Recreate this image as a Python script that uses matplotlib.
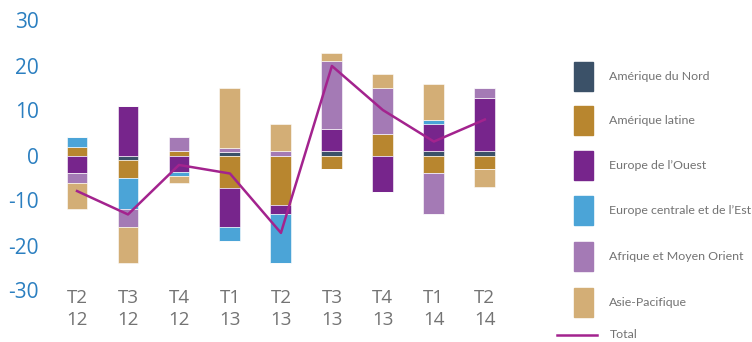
"""Stacked regional contributions per quarter with the total as a line."""

import numpy as np
import matplotlib.pyplot as plt
from matplotlib.patches import Rectangle
from matplotlib.lines import Line2D

plt.rcParams["font.family"] = ["Open Sans", "DejaVu Sans"]
plt.rcParams["axes.unicode_minus"] = False

quarters = ["T2\n12", "T3\n12", "T4\n12", "T1\n13", "T2\n13",
            "T3\n13", "T4\n13", "T1\n14", "T2\n14"]

regions = ["Amérique du Nord", "Amérique latine", "Europe de l\u2019Ouest",
           "Europe centrale et de l\u2019Est", "Afrique et Moyen Orient",
           "Asie-Pacifique"]

amerique_nord = [0.0, -0.9, 0.0, 0.8, 0.0, 0.9, 0.0, 0.9, 0.9]
amerique_latine = [1.8, -4.0, 1.0, -7.2, -11.0, -3.1, 4.8, -3.9, -2.9]
europe_ouest = [-3.8, 11.1, -3.7, -8.7, -2.1, 5.1, -8.0, 6.1, 11.9]
europe_est = [2.4, -7.0, -0.9, -3.2, -10.8, 0.0, 0.0, 0.9, 0.0]
afrique_mo = [-2.2, -3.9, 3.1, 0.9, 0.9, 14.9, 10.2, -9.0, 2.2]
asie_pacifique = [-5.8, -8.0, -1.5, 13.2, 6.2, 1.8, 3.1, 8.0, -4.2]

total = [-7.9, -13.1, -2.1, -4.0, -17.2, 19.9, 10.1, 3.1, 8.0]

COLORS = ["#3b5168", "#b8862f", "#77258c", "#4ba4d7", "#a47ab5", "#d3ae76"]
TOTAL_COLOR = "#a3238e"
TICK_BLUE = "#2b7fc0"
TEXT_GREY = "#737373"
LEGEND_FONT = ["Lato", "DejaVu Sans"]

series = np.array([amerique_nord, amerique_latine, europe_ouest,
                   europe_est, afrique_mo, asie_pacifique])
x = np.arange(len(quarters))

fig = plt.figure(figsize=(7.52, 3.42), dpi=100)
ax = fig.add_axes([50 / 752, 1 - 290.5 / 342, 470 / 752, 270 / 342])

# positive parts stack upward from zero, negative parts stack downward
pos_base = np.zeros(len(x))
neg_base = np.zeros(len(x))
for vals, color in zip(series, COLORS):
    pos = np.clip(vals, 0, None)
    neg = np.clip(vals, None, 0)
    ax.bar(x, pos, width=0.41, bottom=pos_base, color=color,
           edgecolor="white", linewidth=0.4)
    ax.bar(x, neg, width=0.41, bottom=neg_base, color=color,
           edgecolor="white", linewidth=0.4)
    pos_base += pos
    neg_base += neg

ax.plot(x, total, color=TOTAL_COLOR, lw=1.8, zorder=5)

ax.set_xlim(-0.53, 8.69)
ax.set_ylim(-30, 30)
ax.set_yticks(range(-30, 31, 10))
ax.set_xticks(x)
ax.set_xticklabels(quarters, linespacing=1.25)
ax.tick_params(axis="y", length=0, pad=8, labelsize=15, labelcolor=TICK_BLUE)
ax.tick_params(axis="x", length=0, pad=-1, labelsize=13.5, labelcolor=TEXT_GREY)
for spine in ax.spines.values():
    spine.set_visible(False)

# legend drawn by hand: tall swatches plus a longer line for the total
W, H = 752, 342
row_y = [76.7, 120.5, 165.5, 210.5, 256.5, 302.0]
for label, color, yc in zip(regions, COLORS, row_y):
    fig.add_artist(Rectangle((574 / W, 1 - (yc + 14.5) / H), 19 / W, 29 / H,
                             transform=fig.transFigure, color=color))
    fig.text(609 / W, 1 - yc / H, label, fontsize=8.9, color=TEXT_GREY,
             family=LEGEND_FONT, va="center", ha="left")
fig.add_artist(Line2D([557 / W, 597 / W], [1 - 335 / H] * 2,
                      transform=fig.transFigure, color=TOTAL_COLOR, lw=1.8))
fig.text(610 / W, 1 - 335 / H, "Total", fontsize=8.9, color=TEXT_GREY,
         family=LEGEND_FONT, va="center", ha="left")

fig.savefig("out.png", dpi=100)
